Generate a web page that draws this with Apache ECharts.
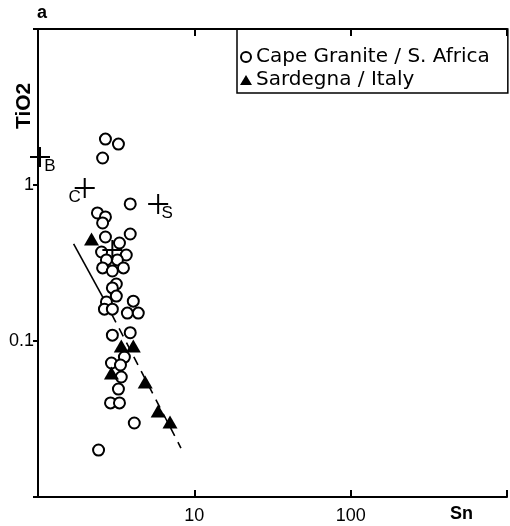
<!DOCTYPE html>
<html>
<head>
<meta charset="utf-8">
<script src="https://cdn.jsdelivr.net/npm/echarts@6/dist/echarts.min.js"></script>
<style>
html,body{margin:0;padding:0;background:#fff;}
#chart{width:510px;height:526px;}
</style>
</head>
<body>
<div id="chart"></div>
<script>
// Cape Granite / S. Africa (Sn, TiO2)
const capeSn   = [2.70,3.27,2.59,3.89,2.40,2.70,2.59,2.70,3.89,3.32,2.55,3.67,2.74,3.22,2.59,2.99,3.52,3.17,2.99,3.17,2.74,4.07,2.66,2.99,3.73,4.38,2.99,3.89,3.57,2.95,3.37,3.41,3.27,2.91,3.32,4.13,2.44];
const capeTiO2 = [1.97,1.83,1.49,0.756,0.662,0.624,0.571,0.464,0.485,0.425,0.372,0.356,0.331,0.331,0.294,0.281,0.294,0.232,0.219,0.194,0.178,0.180,0.160,0.160,0.151,0.151,0.109,0.113,0.0789,0.0723,0.0702,0.0588,0.0492,0.0401,0.0401,0.0298,0.0200];
// Sardegna / Italy
const sardSn   = [2.20,3.41,4.07,2.95,4.85,5.87,6.99];
const sardTiO2 = [0.451,0.0929,0.0929,0.0623,0.0546,0.0356,0.0303];
// reference crosses
const crossNames = ['B','C','S',''];
const crossSn    = [1.03,1.99,5.87,2.99];
const crossTiO2  = [1.51,0.956,0.756,0.383];
// trend line: solid part and dashed part
const trendSolidSn   = [1.69,2.66];
const trendSolidTiO2 = [0.419,0.183];
const trendDashSn    = [2.66,8.21];
const trendDashTiO2  = [0.183,0.0206];
// tick labels
const xTickLabels = [10,100];
const yTickLabels = [1,0.1];

const FONT = '"Liberation Sans", Arial, sans-serif';
const LFONT = '"DejaVu Sans", sans-serif';
const near = (v, t) => Math.abs(Math.log10(v) - Math.log10(t)) < 1e-6;

const labelOffsets = {B:[10,9], C:[-10,9], S:[9,9], '':[0,0]};
const plusPath = 'path://M9,0h2v9h9v2h-9v9h-2v-9h-9v-2h9z';

const chart = echarts.init(document.getElementById('chart'), null, {renderer:'canvas'});
const axisCommon = {
  type:'log', logBase:10,
  axisLine:{show:true, onZero:false, lineStyle:{color:'#000', width:2}},
  splitLine:{show:false},
  minorTick:{show:false}
};
chart.setOption({
  backgroundColor:'#fff',
  animation:false,
  grid:{left:38, top:29, width:472, height:468, containLabel:false},
  xAxis:[
    Object.assign({}, axisCommon, {
      position:'bottom', min:1, max:1000,
      axisTick:{show:true, inside:true, length:7, lineStyle:{color:'#000', width:2}},
      axisLabel:{show:true, margin:10, color:'#000', fontFamily:FONT, fontSize:18,
        formatter:v => { const h = xTickLabels.find(t => near(v,t)); return h!==undefined ? String(h) : ''; }}
    }),
    Object.assign({}, axisCommon, {
      position:'top', min:1, max:1000,
      axisTick:{show:true, inside:true, length:7, lineStyle:{color:'#000', width:2}},
      axisLabel:{show:false}
    })
  ],
  yAxis:[
    Object.assign({}, axisCommon, {
      position:'left', min:0.01, max:10,
      axisTick:{show:true, inside:false, length:5, lineStyle:{color:'#000', width:2}},
      axisLabel:{show:true, margin:4, color:'#000', fontFamily:FONT, fontSize:18,
        formatter:v => { const h = yTickLabels.find(t => near(v,t)); return h!==undefined ? String(h) : ''; }}
    })
  ],
  legend:{
    orient:'vertical', left:237, top:29,
    borderColor:'#000', borderWidth:1.5, borderRadius:0,
    padding:[18,18,3,3], itemGap:3, itemWidth:12, itemHeight:10,
    textStyle:{color:'#000', fontFamily:LFONT, fontSize:20, padding:[0,0,0,-1]},
    data:[
      {name:'Cape Granite / S. Africa', icon:'circle'},
      {name:'Sardegna / Italy', icon:'triangle'}
    ]
  },
  series:[
    {
      type:'line', name:'trendSolid', silent:true, symbol:'none',
      data:trendSolidSn.map((x,i)=>[x,trendSolidTiO2[i]]),
      lineStyle:{color:'#000', width:1.6}
    },
    {
      type:'line', name:'trendDash', silent:true, symbol:'none',
      data:trendDashSn.map((x,i)=>[x,trendDashTiO2[i]]),
      lineStyle:{color:'#000', width:1.6, type:[9,7]}
    },
    {
      type:'scatter', name:'Cape Granite / S. Africa',
      symbol:'circle', symbolSize:11,
      itemStyle:{color:'#fff', borderColor:'#000', borderWidth:2, opacity:1},
      data:capeSn.map((x,i)=>[x,capeTiO2[i]]), z:3
    },
    {
      type:'scatter', name:'Sardegna / Italy',
      symbol:'triangle', symbolSize:[15,13],
      itemStyle:{color:'#000', opacity:1},
      data:sardSn.map((x,i)=>[x,sardTiO2[i]]), z:4
    },
    {
      type:'scatter', name:'ref', symbol:plusPath, symbolSize:20,
      itemStyle:{color:'#000', opacity:1}, z:5,
      data:crossSn.map((x,i)=>({
        name:crossNames[i], value:[x,crossTiO2[i]],
        label:{show:crossNames[i]!=='', position:'inside', offset:labelOffsets[crossNames[i]],
          formatter:'{b}', color:'#000', fontFamily:FONT, fontSize:17}
      }))
    }
  ],
  graphic:[
    {type:'text', left:37, top:4, style:{text:'a', font:'bold 18px '+FONT, fill:'#000'}},
    {type:'text', x:14, y:129, rotation:Math.PI/2, style:{text:'TiO2', font:'bold 21px '+FONT, fill:'#000'}},
    {type:'text', left:450, top:505, style:{text:'Sn', font:'bold 18px '+FONT, fill:'#000'}}
  ]
});
</script>
</body>
</html>
